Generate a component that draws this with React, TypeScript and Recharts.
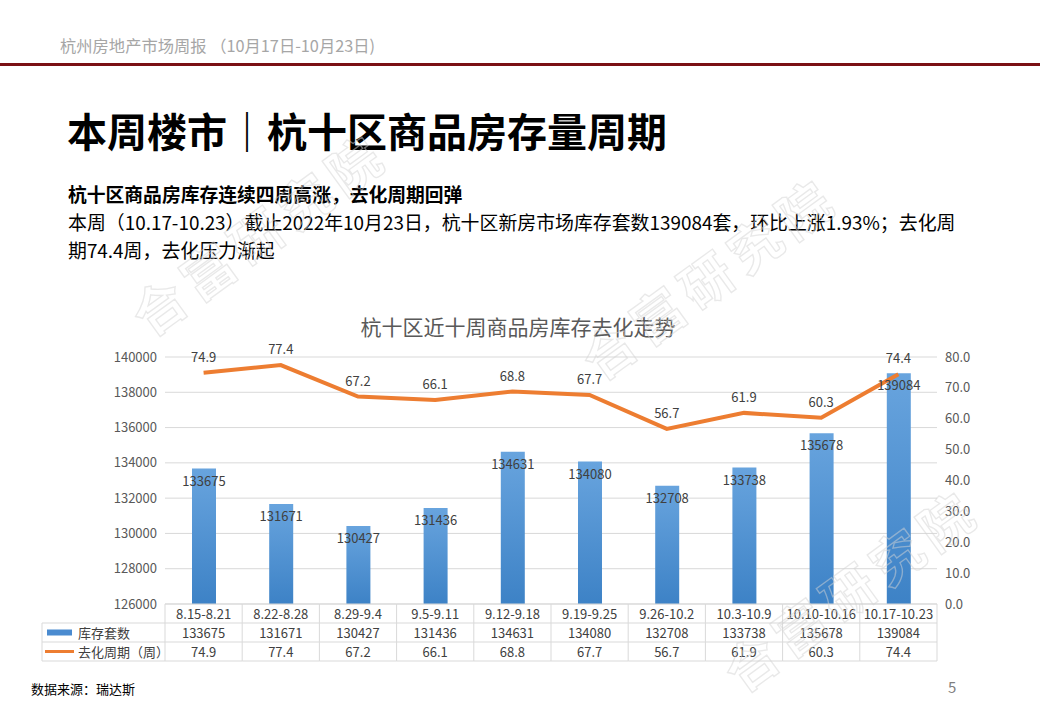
import React from 'react';
import { ComposedChart, Bar, Line, XAxis, YAxis, CartesianGrid, LabelList } from 'recharts';

const weeks = ['8.15-8.21', '8.22-8.28', '8.29-9.4', '9.5-9.11', '9.12-9.18', '9.19-9.25', '9.26-10.2', '10.3-10.9', '10.10-10.16', '10.17-10.23'];
const inventory = [133675, 131671, 130427, 131436, 134631, 134080, 132708, 133738, 135678, 139084];
const cycle = [74.9, 77.4, 67.2, 66.1, 68.8, 67.7, 56.7, 61.9, 60.3, 74.4];
const leftTicks = [126000, 128000, 130000, 132000, 134000, 136000, 138000, 140000];
const rightTicks = [0, 10, 20, 30, 40, 50, 60, 70, 80];
const seriesNames = ['库存套数', '去化周期（周）'];

const data = weeks.map((w, i) => ({ week: w, inventory: inventory[i], cycle: cycle[i] }));

const FONT = '"Noto Sans CJK SC", "Noto Sans", sans-serif';
const CHART_W = 1040;
const CHART_H = 380;
const MARGIN = { top: 57, right: 43, bottom: 19, left: 105 };
const PLOT_L = 165;
const PLOT_W = 772;
const PLOT_BOTTOM = 304;
const CELL_W = PLOT_W / 10;
const ROW_H = 19;
const BORDER = '#d9d9d9';
const TEXT = '#404040';

const TableTick = (props: any) => {
  const { x, payload } = props;
  const i = props.index ?? payload.index;
  const left = x - CELL_W / 2;
  const right = x + CELL_W / 2;
  const y0 = PLOT_BOTTOM;
  return (
    <g fontFamily={FONT} fontSize={13} fill={TEXT}>
      {i === 0 && (
        <g>
          <line x1={42} x2={PLOT_L} y1={y0 + ROW_H} y2={y0 + ROW_H} stroke={BORDER} />
          <line x1={42} x2={PLOT_L} y1={y0 + ROW_H * 2} y2={y0 + ROW_H * 2} stroke={BORDER} />
          <line x1={42} x2={PLOT_L} y1={y0 + ROW_H * 3} y2={y0 + ROW_H * 3} stroke={BORDER} />
          <line x1={42} x2={42} y1={y0 + ROW_H} y2={y0 + ROW_H * 3} stroke={BORDER} />
          <rect x={47} y={y0 + ROW_H * 1.5 - 3} width={25} height={6} fill="#4a8bd0" />
          <text x={78} y={y0 + ROW_H * 1.5} dominantBaseline="central" fill={TEXT}>{seriesNames[0]}</text>
          <rect x={45} y={y0 + ROW_H * 2.5 - 1.5} width={29} height={3} fill="#ed7d31" />
          <text x={78} y={y0 + ROW_H * 2.5} dominantBaseline="central" fill={TEXT}>{seriesNames[1]}</text>
        </g>
      )}
      <line x1={left} x2={right} y1={y0} y2={y0} stroke={BORDER} />
      <line x1={left} x2={right} y1={y0 + ROW_H} y2={y0 + ROW_H} stroke={BORDER} />
      <line x1={left} x2={right} y1={y0 + ROW_H * 2} y2={y0 + ROW_H * 2} stroke={BORDER} />
      <line x1={left} x2={right} y1={y0 + ROW_H * 3} y2={y0 + ROW_H * 3} stroke={BORDER} />
      <line x1={left} x2={left} y1={y0} y2={y0 + ROW_H * 3} stroke={BORDER} />
      {i === weeks.length - 1 && <line x1={right} x2={right} y1={y0} y2={y0 + ROW_H * 3} stroke={BORDER} />}
      <text x={x} y={y0 + ROW_H * 0.5} textAnchor="middle" dominantBaseline="central" fill={TEXT}>{payload.value}</text>
      <text x={x} y={y0 + ROW_H * 1.5} textAnchor="middle" dominantBaseline="central" fill={TEXT}>{inventory[i]}</text>
      <text x={x} y={y0 + ROW_H * 2.5} textAnchor="middle" dominantBaseline="central" fill={TEXT}>{cycle[i].toFixed(1)}</text>
    </g>
  );
};

const watermarks = [
  { cx: 258, cy: 232 },
  { cx: 708, cy: 276 },
  { cx: 850, cy: 588 },
];

export default function App() {
  return (
    <div style={{ position: 'absolute', left: 0, top: 0, width: 1040, height: 720, background: '#fff', fontFamily: FONT, overflow: 'hidden' }}>
      <div style={{ position: 'absolute', left: 60, top: 34, fontSize: 16.3, lineHeight: '22px', color: '#a6a6a6', whiteSpace: 'nowrap' }}>
        杭州房地产市场周报 （10月17日-10月23日)
      </div>
      <div style={{ position: 'absolute', left: 0, top: 63, width: 1040, height: 3, background: '#7a1014' }} />
      <div style={{ position: 'absolute', left: 67, top: 106, fontSize: 40, lineHeight: '48px', fontWeight: 700, color: '#000', whiteSpace: 'nowrap' }}>
        本周楼市｜杭十区商品房存量周期
      </div>
      <div style={{ position: 'absolute', left: 68, top: 180, fontSize: 18.8, lineHeight: '28px', fontWeight: 700, color: '#000', whiteSpace: 'nowrap' }}>
        杭十区商品房库存连续四周高涨，去化周期回弹
      </div>
      <div style={{ position: 'absolute', left: 68, top: 208, fontSize: 18.9, lineHeight: '28px', color: '#000', whiteSpace: 'nowrap' }}>
        <div>本周（10.17-10.23）截止2022年10月23日，杭十区新房市场库存套数139084套，环比上涨1.93%；去化周</div>
        <div>期74.4周，去化压力渐起</div>
      </div>
      <div style={{ position: 'absolute', left: 0, width: 1036, top: 312, textAlign: 'center', fontSize: 21, lineHeight: '28px', color: '#595959' }}>
        杭十区近十周商品房库存去化走势
      </div>
      <div style={{ position: 'absolute', left: 0, top: 300 }}>
        <ComposedChart width={CHART_W} height={CHART_H} data={data} margin={MARGIN}>
          <defs>
            <linearGradient id="barGrad" x1="0" y1="0" x2="0" y2="1">
              <stop offset="0%" stopColor="#68a4de" />
              <stop offset="100%" stopColor="#3d82c6" />
            </linearGradient>
          </defs>
          <CartesianGrid yAxisId="left" vertical={false} stroke={BORDER} />
          <XAxis dataKey="week" interval={0} height={57} tickLine={false} axisLine={false} tickSize={0} tickMargin={0} tick={<TableTick />} />
          <YAxis
            yAxisId="left"
            width={60}
            domain={[126000, 140000]}
            ticks={leftTicks}
            axisLine={false}
            tickLine={false}
            tick={{ fontSize: 13, fill: '#595959', fontFamily: FONT }}
          />
          <YAxis
            yAxisId="right"
            orientation="right"
            width={60}
            domain={[0, 80]}
            ticks={rightTicks}
            axisLine={false}
            tickLine={false}
            tickFormatter={(v: number) => v.toFixed(1)}
            tick={{ fontSize: 13, fill: '#595959', fontFamily: FONT }}
          />
          <Bar yAxisId="left" dataKey="inventory" barSize={24} fill="url(#barGrad)" isAnimationActive={false}>
            <LabelList dataKey="inventory" position="insideTop" offset={8} fill={TEXT} fontSize={13} fontFamily={FONT} />
          </Bar>
          <Line yAxisId="right" dataKey="cycle" type="linear" stroke="#ed7d31" strokeWidth={4} dot={false} isAnimationActive={false}>
            <LabelList dataKey="cycle" position="top" offset={11} fill={TEXT} fontSize={13} fontFamily={FONT} formatter={(v: any) => Number(v).toFixed(1)} />
          </Line>
        </ComposedChart>
      </div>
      <div style={{ position: 'absolute', left: 31, top: 680, fontSize: 13, lineHeight: '18px', color: '#000' }}>数据来源：瑞达斯</div>
      <div style={{ position: 'absolute', left: 948, top: 677, fontSize: 15, lineHeight: '20px', color: '#7f7f7f' }}>5</div>
      <svg width={1040} height={720} style={{ position: 'absolute', left: 0, top: 0, pointerEvents: 'none' }}>
        {watermarks.map((w, k) => (
          <text
            key={k}
            x={w.cx}
            y={w.cy}
            transform={`rotate(-36 ${w.cx} ${w.cy})`}
            textAnchor="middle"
            dominantBaseline="central"
            fontSize={52}
            fontWeight={700}
            letterSpacing={8}
            fontFamily={FONT}
            fill="none"
            stroke="#d4d4d4"
            strokeWidth={1.3}
            opacity={0.5}
          >
            合富研究院
          </text>
        ))}
      </svg>
    </div>
  );
}
